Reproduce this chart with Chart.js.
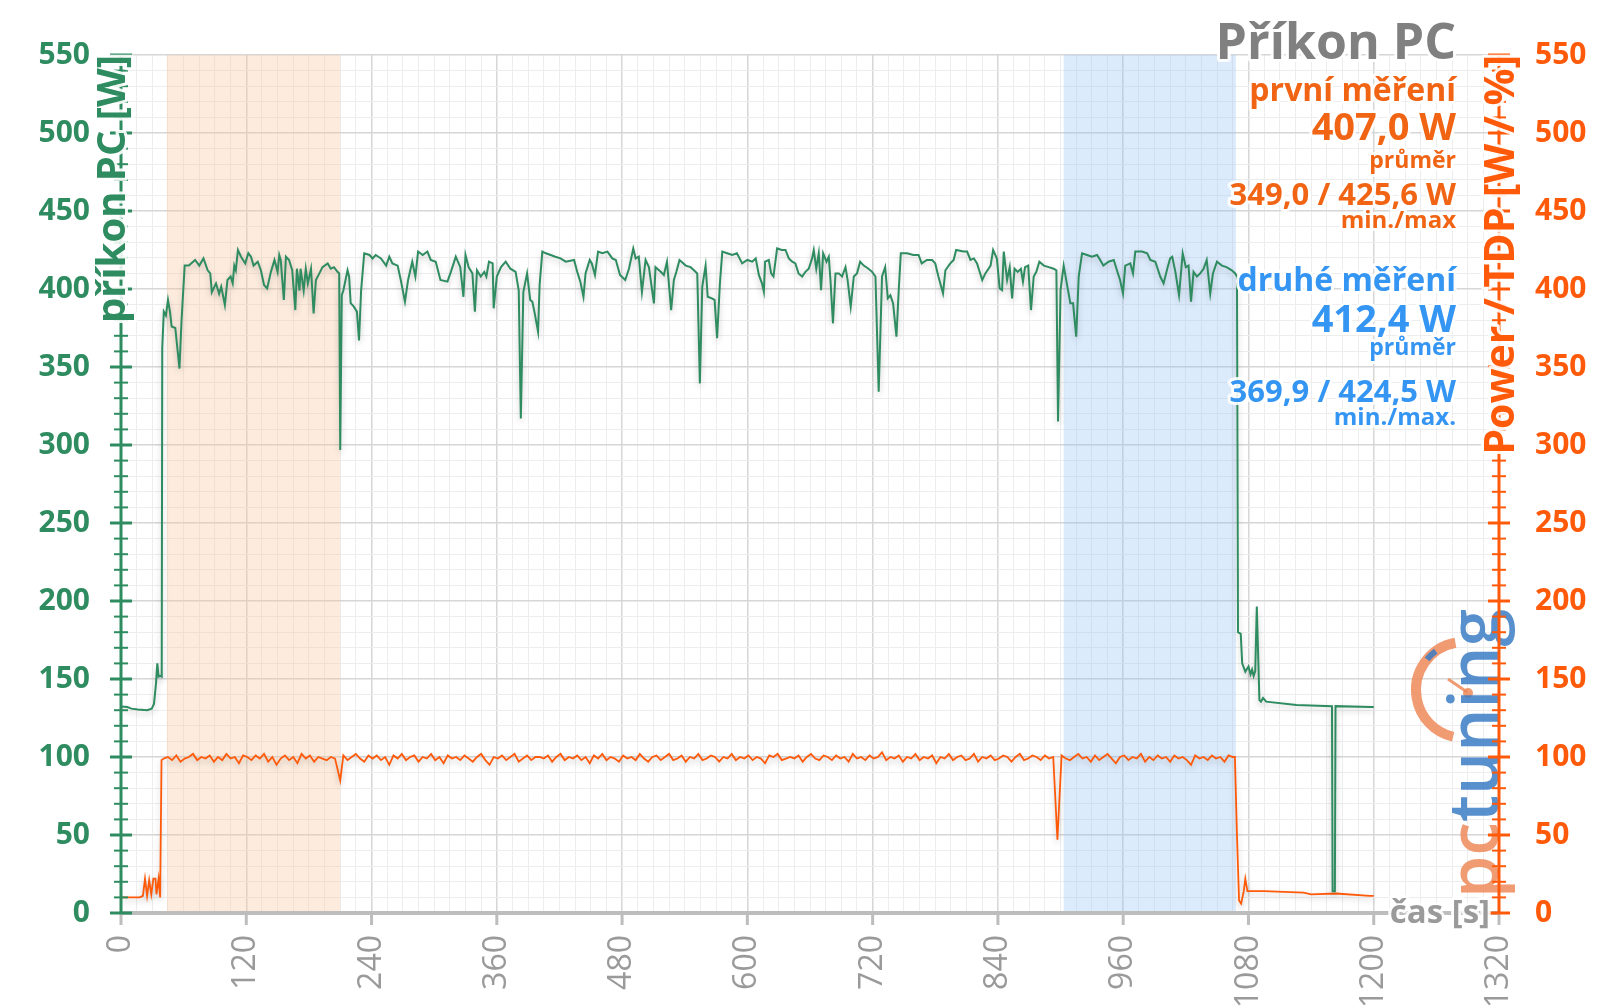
<!DOCTYPE html>
<html lang="cs">
<head>
<meta charset="UTF-8">
<title>Příkon PC</title>
<script src="https://cdn.jsdelivr.net/npm/chart.js"></script>
<style>
  html, body { margin: 0; padding: 0; background: #fff; }
  #wrap { width: 1600px; height: 1008px; position: relative; }
</style>
</head>
<body>
<div id="wrap"><canvas id="powerChart"></canvas></div>
<script>
// --- data ---
const greenTime = [
  0, 6, 10, 16, 25, 29.4, 31.6, 33.5, 34.8, 36, 37.3, 39, 39.5, 41, 43, 45, 47, 48.5, 52, 56,
  58, 61, 65, 71, 75, 79, 83, 85.5, 87, 91, 94, 96, 99.5, 102, 105, 107, 108.5, 110, 112, 115,
  119, 122, 124.5, 127, 131, 134, 137, 140, 143.6, 147, 150, 151.6, 153, 156, 158, 161, 164, 167, 168.5, 171,
  172, 175, 177, 179, 182, 184.5, 186.7, 190, 193, 198, 201, 204, 207.4, 209, 210, 211.5, 213, 217, 218.5, 220,
  223, 226, 228, 230, 233, 238, 241, 244, 249, 254, 257, 260, 265, 268, 272, 275, 279, 282, 284.6, 289,
  293.5, 296.7, 301.5, 306, 312.7, 316, 320.7, 325, 328, 330, 333, 336.6, 339, 341, 344.6, 348, 350, 352.5, 356, 357,
  360, 364, 368.5, 373, 378, 381, 383, 385.4, 389, 392, 394, 396, 399.5, 401, 403.6, 407, 411.6, 416, 421, 426,
  434, 437, 440, 443, 445, 449, 451, 454, 457, 461, 466, 470.6, 474, 478, 483, 486.6, 490.7, 493, 496, 499,
  502.5, 505.7, 510.5, 512, 517, 520, 523, 527, 529.6, 532, 535, 541, 545.6, 548.8, 552, 554.5, 556.8, 560, 562, 566,
  568.6, 571, 573.7, 576, 580.7, 585.5, 590, 595, 600, 604.6, 608, 611, 614, 615.8, 617, 620.5, 622.8, 625, 628.5, 633,
  636.5, 639.7, 643, 646, 649, 652.5, 655.6, 658.8, 662, 663.6, 666, 668.4, 670.6, 672.6, 675.8, 678, 679.6, 682, 684.4, 687.6,
  690.7, 694, 696, 699, 702, 705, 708, 711.5, 716, 719.5, 722.7, 725.8, 729, 732, 734.5, 737, 739.6, 742.8, 745, 747,
  753, 759, 764, 767, 772, 777, 780, 783, 787.4, 789.7, 794.4, 797.6, 800, 807, 810.5, 813.7, 817, 820, 825, 828,
  833, 835.4, 839, 841.7, 844, 845.6, 848.8, 851.3, 853.6, 856, 859, 862, 864, 866, 869, 871.7, 874.3, 876.8, 879.7, 884,
  888.7, 893.4, 896, 897.6, 900, 903, 906, 909.4, 912, 915, 917.4, 920.6, 925.4, 930, 935, 938, 941, 946, 951, 954,
  957, 959.8, 962, 966.8, 969.4, 971.6, 978, 983, 986, 990.8, 995.5, 998.7, 1002.6, 1005, 1007, 1010, 1013.5, 1017, 1020, 1022.6,
  1025, 1027.4, 1030.6, 1033.8, 1037, 1040, 1043.4, 1046, 1049.8, 1054.6, 1059, 1064, 1067.3, 1069, 1070, 1072.6, 1074, 1077, 1080, 1082,
  1083.5, 1085, 1086.5, 1088, 1090.5, 1092, 1094, 1097, 1126, 1160, 1160.6, 1162.8, 1163.4, 1197.5, 1200
];
const greenPower = [
  132.3, 132, 131, 130.5, 130, 131, 134, 147, 160, 151.5, 152, 151.5, 362, 385.5, 383, 393, 385, 376, 375, 349,
  380, 415, 415, 418.6, 415, 419.6, 412, 410, 398, 403.6, 397, 401.5, 389.7, 405.8, 408, 403.6, 415, 412, 425, 420.7,
  416.4, 422.9, 420.7, 415, 417.5, 412, 402.6, 400.4, 411, 418.6, 411, 421.8, 418.6, 393, 420.7, 418.6, 412, 386.5, 413, 399,
  413, 399, 413, 403.6, 413, 384.4, 405.8, 410, 414, 416.4, 413, 414, 411, 410, 296.8, 396, 399, 412, 408, 391,
  388.7, 385.5, 367, 399, 422.9, 421.8, 419.6, 421.8, 419.6, 415, 420.7, 416.4, 415, 405.8, 391.9, 405.8, 417.5, 408, 424, 421.8,
  424, 418.6, 417.5, 405.8, 404.7, 411, 420.7, 414, 395, 421.8, 414, 410, 385.5, 412, 408, 411, 408, 417.5, 416.4, 387.6,
  408, 414, 417.5, 413, 411, 399, 317, 398, 410, 393, 391.9, 385.5, 372.6, 402.6, 424, 422.9, 421.8, 420.7, 419.6, 417.5,
  418.6, 411, 404.7, 395, 410, 418.6, 416.4, 409, 424, 422.9, 424, 419.6, 418.6, 409, 405.8, 413, 426, 419.6, 420.7, 398,
  418.6, 414, 390.8, 414, 411, 409, 417.5, 386.5, 405.8, 411, 418.6, 415, 414, 412, 410, 339.5, 401.5, 415, 395, 394,
  393, 368.4, 403.6, 424, 422.9, 421.8, 422.9, 416.4, 418.6, 417.5, 419.6, 409, 403.6, 398.3, 417.5, 418.6, 410, 408, 426, 425,
  425, 419.6, 417.5, 416.4, 410, 408, 411, 413, 419.6, 425, 413, 422.9, 399.3, 422.9, 417.5, 420.7, 405.8, 378, 410, 410,
  408, 414, 405.8, 388.7, 408, 410, 417.5, 415, 413, 411, 408, 334.2, 408, 414, 394, 396, 390.8, 369.4, 399.3, 422.9,
  422.9, 421.8, 421.8, 416.4, 418.6, 418.6, 416.4, 408, 397.2, 412, 416.4, 418.6, 425, 424, 424, 418.6, 419.6, 416.4, 405.8, 410,
  415, 425, 419.6, 400.4, 399.3, 424, 405.8, 414, 394, 413, 411, 413, 404.7, 414, 415, 386.5, 408, 411, 417.5, 415,
  414, 413, 412, 315, 399.3, 415, 403.6, 390.8, 390.8, 369.4, 408, 422.9, 421.8, 420.7, 421.8, 418.6, 415, 417.5, 418.6, 412,
  405.8, 397.2, 415, 416.4, 410, 424, 424, 422.9, 418.6, 417.5, 408, 403.6, 414, 419.6, 420.7, 411, 396, 422.9, 414, 415,
  391.9, 411, 408, 410, 413, 418.6, 397, 410, 417.5, 415, 414, 412, 410, 408, 180, 179, 160, 154.7, 158, 153,
  156, 152, 155, 196.4, 136.5, 135.5, 137.8, 135.5, 133.3, 132.6, 14, 14, 132.6, 132, 132
];

const orangeTime = [
  0, 18, 21, 23, 25, 27, 29, 31, 33, 34, 36, 37.5, 38.8,
  41, 45, 49, 53, 57, 61, 65, 69, 73, 77,
  81, 85, 89, 93, 97, 101, 105, 109, 113, 117,
  121, 125, 129, 133, 137, 141, 145, 149, 153, 157,
  161, 165, 169, 173, 177, 181, 185, 189, 193, 197,
  201, 205, 210, 213, 217, 221, 225, 229, 233, 237,
  241, 245, 249, 253, 257, 261, 265, 269, 273, 277,
  281, 285, 289, 293, 297, 301, 305, 309, 313, 317,
  321, 325, 329, 333, 337, 341, 345, 349, 353, 357,
  361, 365, 369, 373, 377, 381, 385, 389, 393, 397,
  401, 405, 409, 413, 417, 421, 425, 429, 433, 437,
  441, 445, 449, 453, 457, 461, 465, 469, 473, 477,
  481, 485, 489, 493, 497, 501, 505, 509, 513, 517,
  521, 525, 529, 533, 537, 541, 545, 549, 553, 557,
  561, 565, 569, 573, 577, 581, 585, 589, 593, 597,
  601, 605, 609, 613, 617, 621, 625, 629, 633, 637,
  641, 645, 649, 653, 657, 661, 665, 669, 673, 677,
  681, 685, 689, 693, 697, 701, 705, 709, 713, 717,
  721, 725, 729, 733, 737, 741, 745, 749, 753, 757,
  761, 765, 769, 773, 777, 781, 785, 789, 793, 797,
  801, 805, 809, 813, 817, 821, 825, 829, 833, 837,
  841, 845, 849, 853, 857, 861, 865, 869, 873, 877,
  881, 885, 889, 893, 897, 901, 905, 909, 913, 917,
  921, 925, 929, 933, 937, 941, 945, 949, 953, 957,
  961, 965, 969, 973, 977, 981, 985, 989, 993, 997,
  1001, 1005, 1009, 1013, 1017, 1021, 1025, 1029, 1033, 1037,
  1041, 1045, 1049, 1053, 1057, 1061, 1065,
  1067, 1069, 1071, 1073, 1075.5, 1077, 1079, 1095, 1133, 1140, 1164, 1196, 1200
];
const orangePower = [
  10, 10, 11, 22, 11, 21, 12, 22, 22, 12, 22, 10, 98,
  99, 100, 98, 101, 97, 99, 100, 102, 98, 100,
  99, 101, 97, 100, 98, 102, 99, 100, 96, 101,
  100, 98, 101, 99, 102, 97, 100, 95, 99, 101,
  98, 100, 96, 102, 99, 101, 97, 100, 99, 98,
  100, 99, 85, 101, 98, 100, 102, 99, 97, 101,
  99, 101, 98, 100, 95, 101, 99, 102, 98, 100,
  101, 97, 100, 99, 102, 98, 100, 96, 101, 99,
  100, 98, 101, 99, 97, 100, 102, 98, 95, 100,
  99, 101, 98, 100, 102, 97, 99, 101, 98, 100,
  100, 99, 101, 97, 100, 102, 98, 100, 99, 101,
  98, 100, 96, 101, 99, 102, 98, 100, 99, 97,
  101, 99, 100, 98, 102, 99, 97, 100, 101, 98,
  100, 102, 98, 99, 101, 97, 100, 99, 102, 98,
  99, 101, 100, 97, 100, 99, 102, 98, 100, 99,
  101, 98, 100, 99, 96, 101, 100, 102, 98, 99,
  100, 99, 101, 97, 100, 102, 99, 98, 101, 100,
  98, 101, 99, 100, 97, 102, 99, 100, 98, 101,
  99, 100, 103, 98, 100, 99, 101, 97, 100, 99,
  102, 98, 100, 99, 101, 96, 100, 99, 102, 98,
  100, 101, 98, 99, 102, 97, 100, 99, 101, 98,
  99, 101, 100, 97, 100, 102, 98, 99, 101, 100,
  98, 101, 99, 100, 47, 101, 99, 98, 100, 102,
  99, 100, 97, 101, 98, 100, 102, 99, 96, 100,
  101, 98, 100, 99, 102, 97, 100, 98, 101, 99,
  100, 97, 101, 99, 100, 98, 95, 101, 99, 100,
  98, 101, 99, 100, 97, 101, 100,
  100, 50, 8, 6, 14, 22, 14, 14, 13, 12, 12.5, 11, 11
];

// shaded test windows (s)
const firstRun = [44, 210];
const secondRun = [903, 1068];

const xTickLabels = [0, 120, 240, 360, 480, 600, 720, 840, 960, 1080, 1200, 1320];
const yTickLabels = [0, 50, 100, 150, 200, 250, 300, 350, 400, 450, 500, 550];

const firstStats = ['první měření', '407,0 W', 'průměr', '349,0 / 425,6 W', 'min./max'];
const secondStats = ['druhé měření', '412,4 W', 'průměr', '369,9 / 424,5 W', 'min./max.'];

const GREEN = '#2e8c60';
const ORANGE = '#ff5a0a';
const BLUE = '#3595f2';
const FONT = '"Open Sans", "DejaVu Sans", sans-serif';

function haloText(ctx, text, x, y, font, color, align) {
    ctx.font = font;
    ctx.textAlign = align || 'right';
    ctx.textBaseline = 'middle';
    ctx.lineJoin = 'round';
    ctx.strokeStyle = 'rgba(255,255,255,0.9)';
    ctx.lineWidth = 6;
    ctx.strokeText(text, x, y);
    ctx.fillStyle = color;
    ctx.fillText(text, x, y);
}

const decor = {
    id: 'decor',
    beforeDatasetsDraw(chart) {
        const { ctx, chartArea: a, scales: { x } } = chart;
        ctx.save();
        ctx.fillStyle = 'rgba(250,200,160,0.35)';
        ctx.fillRect(x.getPixelForValue(firstRun[0]), a.top,
            x.getPixelForValue(firstRun[1]) - x.getPixelForValue(firstRun[0]), a.bottom - a.top);
        ctx.fillStyle = 'rgba(150,195,245,0.33)';
        ctx.fillRect(x.getPixelForValue(secondRun[0]), a.top,
            x.getPixelForValue(secondRun[1]) - x.getPixelForValue(secondRun[0]), a.bottom - a.top);
        ctx.restore();
    },
    beforeDatasetDraw(chart) {
        const ctx = chart.ctx;
        ctx.save();
        ctx.shadowColor = 'rgba(0,0,0,0.22)';
        ctx.shadowBlur = 6;
        ctx.shadowOffsetY = 3;
    },
    afterDatasetDraw(chart) {
        chart.ctx.restore();
    },
    afterDatasetsDraw(chart) {
        const { ctx, chartArea: a, scales: { x, y, y2 } } = chart;
        ctx.save();

        // pctuning logo
        ctx.save();
        ctx.globalAlpha = 0.85;
        ctx.strokeStyle = '#ef8a5a';
        ctx.lineWidth = 10;
        ctx.beginPath();
        ctx.arc(1464, 690, 48, -1.75, 1.8, true);
        ctx.stroke();
        ctx.strokeStyle = '#3b7cc4';
        ctx.lineWidth = 6;
        ctx.beginPath();
        ctx.arc(1464, 690, 48, -2.2, -2.45, true);
        ctx.stroke();
        ctx.strokeStyle = '#ef8a5a';
        ctx.lineWidth = 3;
        ctx.beginPath();
        ctx.moveTo(1467, 692);
        ctx.lineTo(1448, 679);
        ctx.stroke();
        ctx.fillStyle = '#ef8a5a';
        ctx.beginPath();
        ctx.arc(1468, 693, 5, 0, Math.PI * 2);
        ctx.fill();
        ctx.translate(1498, 898);
        ctx.rotate(-Math.PI / 2);
        ctx.font = '600 68px ' + FONT;
        ctx.textAlign = 'left';
        ctx.textBaseline = 'alphabetic';
        ctx.fillStyle = '#ef8a5a';
        ctx.fillText('pc', 0, 0);
        const pcw = ctx.measureText('pc').width;
        ctx.fillStyle = '#3b7cc4';
        ctx.fillText('tuning', pcw, 0);
        ctx.restore();

        // x axis line
        ctx.strokeStyle = '#bdbdbd';
        ctx.lineWidth = 4;
        ctx.beginPath();
        ctx.moveTo(a.left, a.bottom);
        ctx.lineTo(a.right, a.bottom);
        ctx.stroke();
        ctx.lineWidth = 3;
        xTickLabels.forEach(v => {
            const px = x.getPixelForValue(v);
            ctx.beginPath();
            ctx.moveTo(px, a.bottom);
            ctx.lineTo(px, a.bottom + 12);
            ctx.stroke();
        });

        // y axes with crossing ticks
        [[y, GREEN], [y2, ORANGE]].forEach(([s, col]) => {
            const ax = s === y ? a.left : a.right;
            ctx.strokeStyle = col;
            ctx.lineWidth = 3;
            ctx.beginPath();
            ctx.moveTo(ax, a.bottom);
            ctx.lineTo(ax, a.top);
            ctx.stroke();
            s.ticks.forEach(t => {
                const py = s.getPixelForValue(t.value);
                const major = t.value % 50 === 0;
                ctx.lineWidth = major ? 3 : 2;
                ctx.beginPath();
                ctx.moveTo(ax - (major ? 11 : 7), py);
                ctx.lineTo(ax + (major ? 11 : 7), py);
                ctx.stroke();
            });
        });

        // axis titles
        ctx.save();
        ctx.translate(a.left - 7, a.top);
        ctx.rotate(-Math.PI / 2);
        haloText(ctx, 'příkon PC [W]', 0, 0, 'bold 40px ' + FONT, GREEN, 'right');
        ctx.restore();

        ctx.save();
        ctx.translate(a.right + 3, a.top);
        ctx.rotate(-Math.PI / 2);
        haloText(ctx, 'Power / TDP [W / %]', 0, 0, 'bold 41px ' + FONT, ORANGE, 'right');
        ctx.restore();

        haloText(ctx, 'čas [s]', 1490, 914, 'bold 33px ' + FONT, '#9a9a9a', 'right');

        // title and stats
        const rx = 1456;
        haloText(ctx, 'Příkon PC', rx, 45, 'bold 50px ' + FONT, '#808080');
        const sizes = [32, 38, 23, 31, 24];
        const firstY = [92, 129, 161, 196, 221];
        const secondY = [282, 321, 348, 393, 418];
        firstStats.forEach((t, i) => haloText(ctx, t, rx, firstY[i], 'bold ' + sizes[i] + 'px ' + FONT, '#f06414'));
        secondStats.forEach((t, i) => haloText(ctx, t, rx, secondY[i], 'bold ' + sizes[i] + 'px ' + FONT, BLUE));

        ctx.restore();
    }
};

const ctx = document.getElementById('powerChart').getContext('2d');
new Chart(ctx, {
    type: 'line',
    data: {
        datasets: [{
            label: 'příkon PC',
            data: greenTime.map((t, i) => ({ x: t, y: greenPower[i] })),
            borderColor: GREEN,
            borderWidth: 2,
            pointRadius: 0,
            tension: 0,
            yAxisID: 'y'
        }, {
            label: 'Power / TDP',
            data: orangeTime.map((t, i) => ({ x: t, y: orangePower[i] })),
            borderColor: ORANGE,
            borderWidth: 1.8,
            pointRadius: 0,
            tension: 0,
            yAxisID: 'y2'
        }]
    },
    options: {
        responsive: true,
        maintainAspectRatio: false,
        animation: false,
        layout: { padding: { top: 55, left: 0, right: 0, bottom: 0 } },
        plugins: { legend: { display: false }, tooltip: { enabled: false } },
        scales: {
            x: {
                type: 'linear',
                min: 0,
                max: 1320,
                afterFit(s) { s.height = 95; },
                border: { display: false },
                grid: {
                    drawTicks: false,
                    color: c => c.tick.value % 120 === 0 ? '#d6d6d6' : '#ededed',
                    lineWidth: c => c.tick.value % 120 === 0 ? 1.5 : 1
                },
                ticks: {
                    stepSize: 15,
                    autoSkip: false,
                    minRotation: 90,
                    maxRotation: 90,
                    padding: 22,
                    color: '#9a9a9a',
                    font: { family: FONT, size: 32 },
                    callback: v => xTickLabels.includes(v) ? String(v) : ''
                }
            },
            y: {
                position: 'left',
                min: 0,
                max: 550,
                afterFit(s) { s.width = 121; },
                border: { display: false },
                grid: {
                    drawTicks: false,
                    color: c => c.tick.value % 50 === 0 ? '#d6d6d6' : '#ededed',
                    lineWidth: c => c.tick.value % 50 === 0 ? 1.5 : 1
                },
                ticks: {
                    stepSize: 10,
                    autoSkip: false,
                    padding: 31,
                    color: GREEN,
                    font: { family: FONT, size: 30, weight: 'bold' },
                    callback: v => yTickLabels.includes(v) ? String(v) : ''
                }
            },
            y2: {
                position: 'right',
                min: 0,
                max: 550,
                afterFit(s) { s.width = 101; },
                border: { display: false },
                grid: { drawOnChartArea: false, drawTicks: false },
                ticks: {
                    stepSize: 10,
                    autoSkip: false,
                    padding: 36,
                    color: ORANGE,
                    font: { family: FONT, size: 30, weight: 'bold' },
                    callback: v => yTickLabels.includes(v) ? String(v) : ''
                }
            }
        }
    },
    plugins: [decor]
});
</script>
</body>
</html>
